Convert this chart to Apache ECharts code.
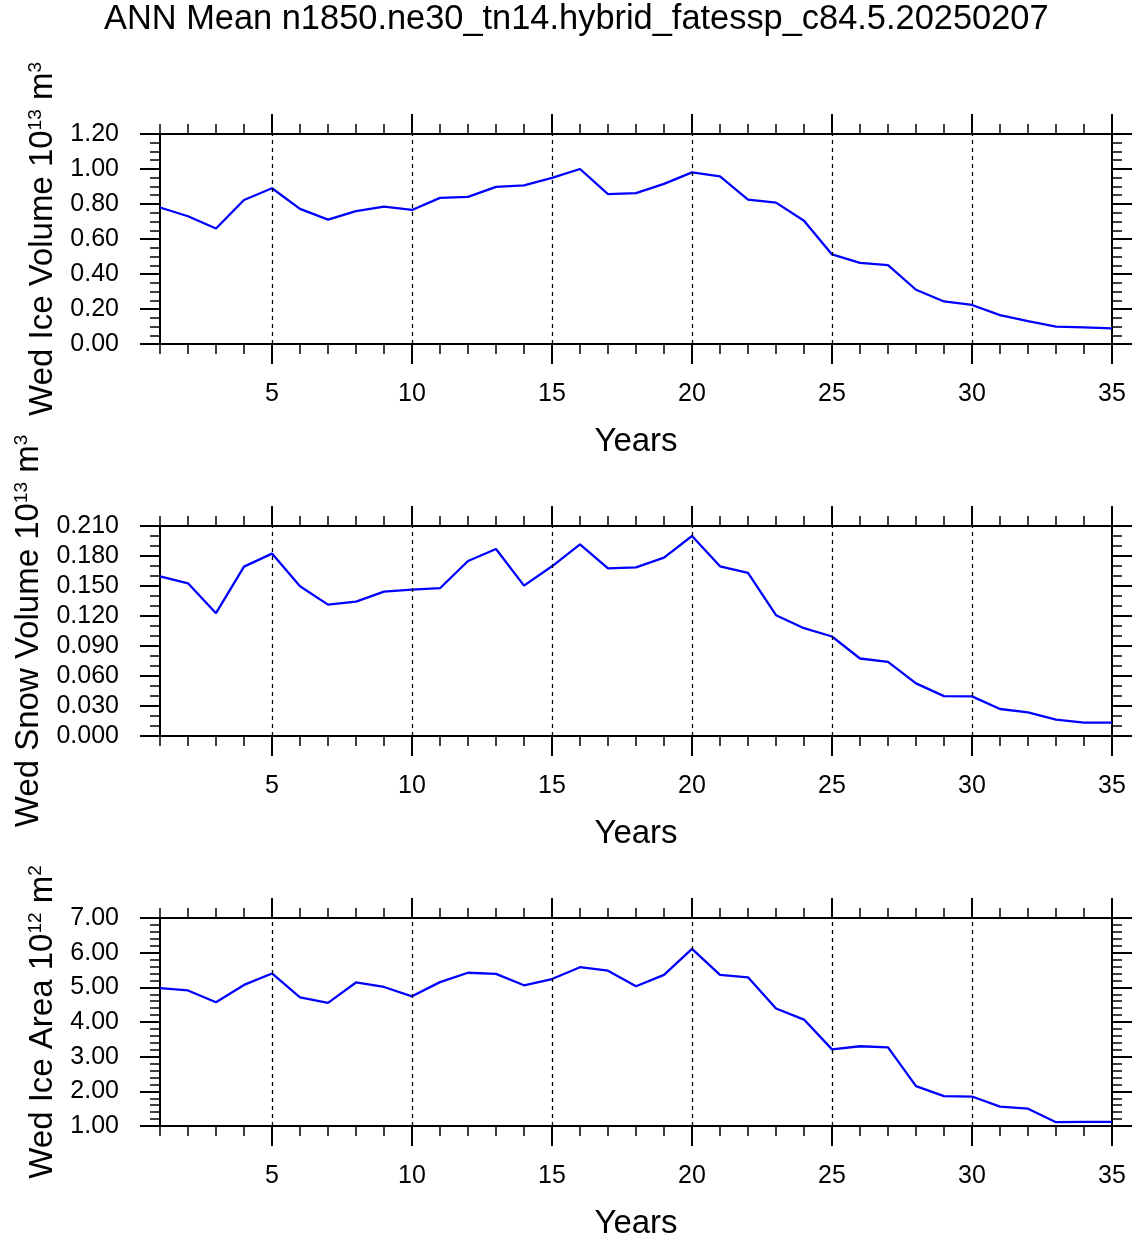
<!DOCTYPE html>
<html>
<head>
<meta charset="utf-8">
<script src="https://cdn.jsdelivr.net/npm/echarts@6/dist/echarts.min.js"></script>
<style>
html,body{margin:0;padding:0;background:#fff;}
#chart{width:1138px;height:1241px;}
</style>
</head>
<body>
<div id="chart"></div>
<script>
// ---- data ----
const years = [1,2,3,4,5,6,7,8,9,10,11,12,13,14,15,16,17,18,19,20,21,22,23,24,25,26,27,28,29,30,31,32,33,34,35];
const iceVolume = [0.780,0.730,0.660,0.823,0.890,0.772,0.711,0.759,0.785,0.766,0.835,0.841,0.898,0.907,0.949,1.000,0.856,0.862,0.915,0.981,0.958,0.825,0.808,0.704,0.512,0.464,0.451,0.310,0.243,0.223,0.165,0.131,0.099,0.095,0.089];
const snowVolume = [0.1597,0.1527,0.1228,0.1694,0.1824,0.1498,0.1314,0.1344,0.1444,0.1464,0.1478,0.1750,0.1870,0.1504,0.1697,0.1917,0.1676,0.1687,0.1784,0.2000,0.1697,0.1631,0.1208,0.1078,0.0995,0.0775,0.0742,0.0526,0.0399,0.0396,0.0270,0.0236,0.0163,0.0133,0.0133];
const iceArea = [4.98,4.91,4.57,5.07,5.40,4.71,4.55,5.14,5.01,4.74,5.15,5.42,5.39,5.06,5.24,5.58,5.48,5.03,5.36,6.11,5.36,5.29,4.39,4.07,3.21,3.30,3.27,2.15,1.86,1.85,1.56,1.50,1.11,1.12,1.12];
const xTickLabels = [5,10,15,20,25,30,35];
const xGridLines = [5,10,15,20,25,30];
const titleText = 'ANN Mean n1850.ne30_tn14.hybrid_fatessp_c84.5.20250207';
const yNames = ['Wed Ice Volume 10{sup|13} m{sup|3}', 'Wed Snow Volume 10{sup|13} m{sup|3}', 'Wed Ice Area 10{sup|12} m{sup|2}'];
const yMins = [0, 0, 1];
const yMaxs = [1.2, 0.21, 7];
const yIntervals = [0.2, 0.03, 1];
const yMinorSplits = [4, 3, 5];
const yDecimals = [2, 3, 2];
const panelValues = [iceVolume, snowVolume, iceArea];

// ---- chart ----
const FONT = '"Liberation Sans", Arial, Helvetica, sans-serif';
const BLACK = '#000';
const gridTops = [134, 526, 918];

const grids = [], xAxes = [], yAxes = [], series = [];
for (let i = 0; i < 3; i++) {
  grids.push({left: 160, right: 26, top: gridTops[i], height: 210, containLabel: false});
  const xBase = {gridIndex: i, type: 'value', min: 1, max: 35, splitLine: {show: false}};
  // bottom minor ticks + labels + name
  xAxes.push(Object.assign({}, xBase, {
    position: 'bottom', interval: 1,
    axisLine: {show: true, onZero: false, lineStyle: {color: BLACK, width: 2}},
    axisTick: {show: true, inside: false, length: 10, lineStyle: {color: BLACK, width: 1.5}},
    axisLabel: {show: true, margin: 38, fontSize: 25, color: BLACK, fontFamily: FONT,
      formatter: v => xTickLabels.indexOf(v) >= 0 ? String(v) : ''},
    name: 'Years', nameLocation: 'middle', nameGap: 81,
    nameTextStyle: {fontSize: 33, color: BLACK, fontFamily: FONT}
  }));
  // bottom major ticks
  xAxes.push(Object.assign({}, xBase, {
    position: 'bottom',
    axisLine: {show: false, onZero: false},
    axisTick: {show: true, inside: false, length: 20, customValues: xTickLabels, lineStyle: {color: BLACK, width: 2}},
    axisLabel: {show: false}
  }));
  // top minor
  xAxes.push(Object.assign({}, xBase, {
    position: 'top', interval: 1,
    axisLine: {show: true, onZero: false, lineStyle: {color: BLACK, width: 2}},
    axisTick: {show: true, inside: false, length: 10, lineStyle: {color: BLACK, width: 1.5}},
    axisLabel: {show: false}
  }));
  // top major
  xAxes.push(Object.assign({}, xBase, {
    position: 'top',
    axisLine: {show: false, onZero: false},
    axisTick: {show: true, inside: false, length: 20, customValues: xTickLabels, lineStyle: {color: BLACK, width: 2}},
    axisLabel: {show: false}
  }));
  const yBase = {
    gridIndex: i, type: 'value', min: yMins[i], max: yMaxs[i], interval: yIntervals[i],
    axisLine: {show: true, onZero: false, lineStyle: {color: BLACK, width: 2}},
    axisTick: {show: true, inside: false, length: 20, lineStyle: {color: BLACK, width: 2}},
    minorTick: {show: true, splitNumber: yMinorSplits[i], length: 10, lineStyle: {color: BLACK, width: 1.5}},
    splitLine: {show: false}, minorSplitLine: {show: false}
  };
  const dec = yDecimals[i];
  yAxes.push(Object.assign({}, yBase, {
    position: 'left',
    axisLabel: {show: true, margin: 41, fontSize: 25, color: BLACK, fontFamily: FONT,
      formatter: v => Number(v).toFixed(dec)},
    name: yNames[i], nameLocation: 'middle', nameRotate: 90, nameGap: 101,
    nameTextStyle: {fontSize: 33, color: BLACK, fontFamily: FONT,
      rich: {sup: {fontSize: 19, color: BLACK, fontFamily: FONT, verticalAlign: 'top', padding: [0, 0, 0, 0]}}}
  }));
  yAxes.push(Object.assign({}, yBase, {
    position: 'right',
    axisLabel: {show: false}
  }));
  const vals = panelValues[i];
  series.push({
    type: 'line', xAxisIndex: 4 * i, yAxisIndex: 2 * i,
    data: years.map((y, k) => [y, vals[k]]),
    symbol: 'none', showSymbol: false, smooth: false,
    lineStyle: {color: '#0000ff', width: 2.3},
    itemStyle: {color: '#0000ff'},
    z: 3,
    markLine: {
      silent: true, symbol: 'none', label: {show: false},
      lineStyle: {color: BLACK, type: [4, 4], width: 1.3},
      emphasis: {disabled: true},
      data: xGridLines.map(v => ({xAxis: v}))
    }
  });
}

const chart = echarts.init(document.getElementById('chart'), null, {renderer: 'canvas'});
chart.setOption({
  animation: false,
  backgroundColor: '#fff',
  title: {text: titleText, left: 99, top: -2,
    textStyle: {fontSize: 34.4, fontWeight: 'normal', color: BLACK, fontFamily: FONT}},
  grid: grids,
  xAxis: xAxes,
  yAxis: yAxes,
  series: series
});
</script>
</body>
</html>
